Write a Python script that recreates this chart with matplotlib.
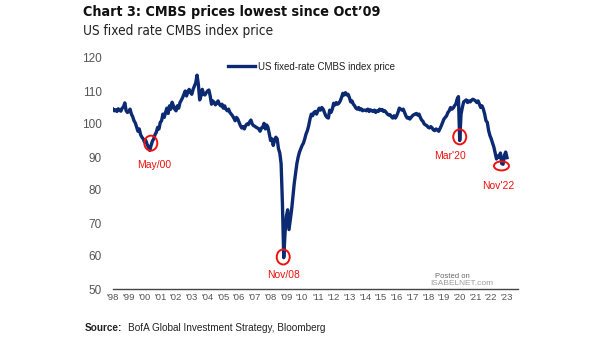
import matplotlib
matplotlib.use("Agg")
import matplotlib.pyplot as plt
from matplotlib.patches import Ellipse
from matplotlib import font_manager
from matplotlib.font_manager import FontProperties
import numpy as np

plt.rcParams['font.family'] = ['Liberation Sans', 'DejaVu Sans']


def find_condensed(bold):
    best = None
    for f in font_manager.fontManager.ttflist:
        cond = (str(f.stretch) in ("condensed", "semi-condensed", "extra-condensed")
                or "Narrow" in f.name or "Condensed" in f.name
                or "Condensed" in f.fname or "Narrow" in f.fname)
        if not cond or f.style != "normal":
            continue
        w = f.weight if isinstance(f.weight, int) else (700 if "bold" in str(f.weight) else 400)
        if bold and w < 600:
            continue
        if not bold and w >= 600:
            continue
        if best is None:
            best = f.fname
    return best


cond_bold = find_condensed(True)
cond_reg = find_condensed(False)

start_year = 1998
values = [
    # 1998
    104.5, 104.0, 104.3, 103.8, 104.6, 104.2, 103.9, 104.8, 105.2, 106.4, 104.0, 103.5,
    # 1999
    103.8, 104.5, 103.0, 102.2, 101.0, 100.3, 99.0, 97.8, 98.5, 96.8, 96.0, 95.5,
    # 2000
    94.5, 95.0, 93.8, 93.0, 92.0, 93.5, 94.8, 95.5, 96.8, 97.5, 99.0, 98.5,
    # 2001
    100.5, 101.0, 103.0, 102.0, 103.5, 104.8, 103.2, 105.5, 104.5, 106.6, 105.5, 104.5,
    # 2002
    104.0, 105.5, 104.8, 106.5, 107.2, 108.0, 109.0, 110.0, 108.5, 109.8, 110.5, 109.5,
    # 2003
    109.0, 110.5, 111.5, 112.5, 114.8, 112.0, 107.3, 108.5, 110.5, 109.0, 108.8, 109.5,
    # 2004
    110.0, 110.3, 108.5, 106.0, 107.0, 106.5, 105.8, 106.4, 107.0, 106.0, 105.5, 106.0,
    # 2005
    104.8, 105.5, 104.5, 104.0, 104.5, 103.5, 103.0, 102.5, 101.8, 101.0, 102.0, 101.5,
    # 2006
    100.5, 99.5, 98.8, 99.2, 98.5, 99.5, 100.0, 99.8, 100.6, 101.2, 100.0, 99.5,
    # 2007
    99.3, 99.0, 98.8, 98.5, 97.8, 98.8, 99.0, 100.2, 98.5, 99.7, 99.0, 97.0,
    # 2008
    95.0, 95.5, 93.5, 95.0, 96.0, 95.5, 92.5, 91.2, 88.0, 76.0, 59.5, 67.0,
    # 2009
    72.0, 74.0, 68.0, 71.0, 74.0, 78.0, 82.0, 85.0, 88.0, 90.0, 91.5, 92.5,
    # 2010
    93.5, 94.2, 95.5, 97.0, 98.0, 99.5, 101.5, 103.0, 102.5, 103.5, 103.8, 103.0,
    # 2011
    104.0, 104.8, 104.2, 105.0, 104.5, 103.5, 102.5, 102.0, 101.8, 104.2, 103.5, 104.5,
    # 2012
    106.3, 105.8, 106.5, 106.0, 106.3, 107.0, 108.0, 109.3, 108.8, 109.5, 108.8, 109.0,
    # 2013
    108.0, 106.7, 107.0, 106.0, 105.5, 104.8, 104.5, 105.0, 104.3, 104.6, 104.0, 104.2,
    # 2014
    104.2, 104.0, 104.5, 103.8, 104.3, 104.0, 103.8, 104.2, 103.5, 104.0, 103.8, 104.5,
    # 2015
    104.2, 104.4, 103.8, 104.0, 103.5, 103.0, 102.7, 102.8, 102.2, 101.8, 102.5, 101.8,
    # 2016
    102.5, 103.5, 104.8, 104.5, 104.2, 104.5, 103.5, 102.5, 101.8, 102.0, 101.5, 102.0,
    # 2017
    102.5, 102.8, 103.0, 103.2, 102.7, 103.0, 102.0, 101.2, 100.8, 100.0, 99.7, 99.5,
    # 2018
    99.0, 98.8, 99.2, 98.8, 98.2, 98.0, 98.5, 98.2, 97.8, 98.6, 99.5, 100.5,
    # 2019
    101.5, 102.0, 102.5, 103.5, 104.0, 105.0, 104.5, 104.8, 105.5, 106.0, 107.5, 108.3,
    # 2020
    95.0, 103.0, 105.0, 106.7, 107.0, 107.3, 106.5, 107.0, 106.7, 107.2, 107.5, 107.3,
    # 2021
    107.0, 106.5, 107.0, 106.0, 105.0, 105.5, 104.5, 103.0, 101.0, 100.5, 98.0, 96.5,
    # 2022
    95.5, 94.2, 93.0, 91.2, 89.4, 90.3, 90.0, 91.2, 88.0, 87.8, 90.5, 91.5,
    # 2023
    89.8,
]
dates = start_year + np.arange(len(values)) / 12.0

x_tick_years = list(range(1998, 2024))
x_tick_labels = ["'%02d" % (y % 100) for y in x_tick_years]
y_ticks = [50, 60, 70, 80, 90, 100, 110, 120]

annot_labels = ["May/00", "Nov/08", "Mar'20", "Nov'22"]
annot_circle_x = [2000.4, 2008.8, 2020.0, 2022.65]
annot_circle_y = [94.2, 59.7, 96.1, 87.3]
annot_text_x = [2000.6, 2008.8, 2019.4, 2022.45]
annot_text_y = [87.5, 54.2, 90.3, 81.2]

W, H = 605, 341
fig = plt.figure(figsize=(W / 100, H / 100), dpi=100)
fig.patch.set_facecolor("white")

L, R, B, T = 113, 518, 289, 58
ax = fig.add_axes([L / W, 1 - B / H, (R - L) / W, (B - T) / H])
px_per_year = 15.76
ax.set_xlim(1998.0, 1998.0 + (R - L) / px_per_year)
ax.set_ylim(50, 120)

navy = "#0b2a72"
red = "#f01010"
line, = ax.plot(dates, values, color=navy, lw=2.4, solid_joinstyle="round",
                label="US fixed-rate CMBS index price")

for s in ["top", "right", "left"]:
    ax.spines[s].set_visible(False)
ax.spines["bottom"].set_color("#444444")
ax.spines["bottom"].set_linewidth(1.0)
ax.set_yticks(y_ticks)
ax.set_yticklabels([str(v) for v in y_ticks], fontsize=8.5, color="#555555")
ax.set_xticks(x_tick_years)
ax.set_xticklabels(x_tick_labels, fontsize=6.8, color="#555555")
ax.tick_params(axis="both", length=0)
ax.tick_params(axis="y", pad=8)
ax.tick_params(axis="x", pad=3)

yr_per_px = 1 / px_per_year
val_per_px = 70 / (B - T)
sizes = [(13, 15), (13, 15), (13, 15), (15, 9)]
for cx, cy, (w, h) in zip(annot_circle_x, annot_circle_y, sizes):
    ax.add_patch(Ellipse((cx, cy), w * yr_per_px, h * val_per_px, fill=False,
                         edgecolor=red, lw=1.4, zorder=5))
for tx, ty, lab in zip(annot_text_x, annot_text_y, annot_labels):
    ax.text(tx, ty, lab, color=red, fontsize=7.5, ha="center", va="center")

leg = ax.legend(handles=[line], loc="upper left", bbox_to_anchor=((224 - L) / (R - L), 1.0),
                frameon=False, fontsize=7.0, handlelength=2.8, handletextpad=0.3,
                borderaxespad=0.0)
for t in leg.get_texts():
    t.set_color("#222222")

if cond_bold:
    tprops = dict(fontproperties=FontProperties(fname=cond_bold, size=10.3))
else:
    tprops = dict(fontsize=10, fontweight="bold")
if cond_reg:
    sprops = dict(fontproperties=FontProperties(fname=cond_reg, size=9.8))
else:
    sprops = dict(fontsize=9.5)

fig.text(83 / W, 1 - 12 / H, "Chart 3: CMBS prices lowest since Oct\u201909",
         color="#111111", va="center", ha="left", **tprops)
fig.text(83 / W, 1 - 31 / H, "US fixed rate CMBS index price",
         color="#222222", va="center", ha="left", **sprops)

src = fig.text(85 / W, 1 - 331 / H, "Source:", fontsize=7.2, fontweight="bold",
               color="#222222", va="baseline", ha="left")
fig.add_artist(plt.Annotation("BofA Global Investment Strategy, Bloomberg", xy=(1, 0),
                              xycoords=src, xytext=(4, 0), textcoords="offset points",
                              fontsize=7.2, color="#222222", va="bottom", ha="left"))

fig.text(452 / W, 1 - 276 / H, "Posted on", fontsize=5.5, color="#666666",
         va="center", ha="center")
fig.text(462 / W, 1 - 283.5 / H, "ISABELNET.com", fontsize=6, color="#8a8a8a",
         va="center", ha="center", alpha=0.85)

fig.savefig("out.png", dpi=100, facecolor="white")
